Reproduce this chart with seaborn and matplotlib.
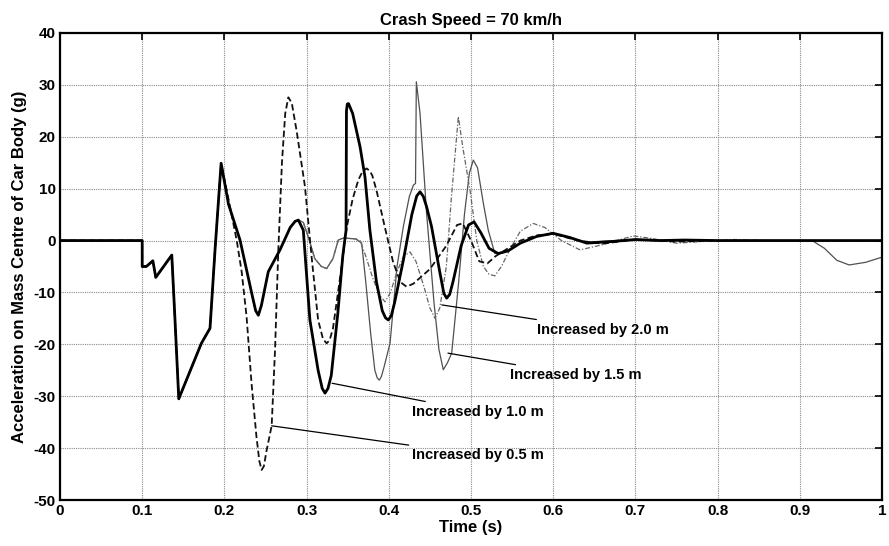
import numpy as np
import pandas as pd
import matplotlib
matplotlib.use("Agg")
import matplotlib.pyplot as plt
import seaborn as sns

# ---------------- data ----------------
# part shared by all four cases (t in s, acceleration in g)
common_t = [0.0, 0.1, 0.1, 0.105, 0.113, 0.1165, 0.136, 0.1399, 0.1445, 0.172, 0.1825, 0.1886, 0.196]
common_y = [0.0, 0.0, -5.0, -5.0, -3.9, -7.1, -2.8, -15.3, -30.5, -19.8, -16.9, -1.8, 14.9]

# part shared by the 1.0, 1.5 and 2.0 m cases
mid_t = [0.205, 0.219, 0.233, 0.238, 0.2413, 0.245, 0.2534, 0.2676, 0.28, 0.286, 0.29]
mid_y = [7.0, 0.1, -10.0, -13.5, -14.4, -12.5, -6.0, -1.8, 2.5, 3.7, 3.95]

# Increased by 1.0 m (thick solid)
t10 = [0.296, 0.304, 0.314, 0.319, 0.3224, 0.326, 0.33, 0.338, 0.344, 0.348, 0.3485, 0.3495,
       0.351, 0.356, 0.365, 0.371, 0.377, 0.385, 0.392, 0.396, 0.3994, 0.403, 0.407, 0.4177,
       0.428, 0.434, 0.438, 0.442, 0.446, 0.452, 0.4623, 0.467, 0.4704, 0.474, 0.478, 0.488,
       0.497, 0.5037, 0.512, 0.522, 0.533, 0.545, 0.56, 0.58, 0.6, 0.62, 0.641, 0.67, 0.7,
       0.73, 0.76, 0.8, 1.0]
y10 = [2.0, -15.3, -25.0, -28.5, -29.4, -28.5, -26.0, -14.0, -3.0, 2.0, 25.0, 26.3,
       26.4, 24.5, 18.1, 12.3, 2.0, -8.0, -13.5, -14.9, -15.3, -14.5, -12.0, -3.8,
       5.0, 8.6, 9.4, 8.5, 6.5, 2.7, -6.3, -10.2, -11.1, -10.4, -8.0, -1.0,
       3.0, 3.6, 1.5, -1.5, -2.5, -2.0, -0.5, 0.8, 1.4, 0.6, -0.5, -0.2, 0.2,
       0.0, 0.1, 0.0, 0.0]

# Increased by 0.5 m (dashed)
t05 = [0.205, 0.215, 0.221, 0.227, 0.233, 0.239, 0.2425, 0.2453, 0.248, 0.2514, 0.2575,
       0.2616, 0.2656, 0.27, 0.274, 0.2778, 0.282, 0.288, 0.298, 0.306, 0.314, 0.32,
       0.3244, 0.328, 0.332, 0.34, 0.349, 0.356, 0.363, 0.368, 0.373, 0.377, 0.38, 0.385,
       0.395, 0.405, 0.414, 0.4217, 0.43, 0.45, 0.47, 0.483, 0.49, 0.5, 0.51, 0.52, 0.53,
       0.545, 0.56, 0.58, 0.6, 0.63, 0.66, 0.7, 0.75, 0.8]
y05 = [8.0, 0.0, -6.0, -14.7, -27.5, -37.8, -42.5, -44.2, -43.5, -40.4, -35.7,
       -21.1, -1.8, 15.0, 24.5, 27.6, 26.5, 21.0, 10.4, -3.0, -15.3, -19.0,
       -19.8, -19.2, -17.0, -8.0, 2.7, 8.0, 11.7, 13.3, 13.9, 13.4, 12.5, 9.7,
       2.7, -4.0, -8.0, -8.9, -8.3, -5.5, -1.0, 3.0, 3.3, 0.0, -4.0, -4.4, -3.0,
       -1.5, 0.0, 1.0, 1.3, 0.0, -0.6, 0.2, -0.2, 0.0]

# part shared by the 1.5 and 2.0 m cases
pair_t = [0.296, 0.302, 0.31, 0.318, 0.3244, 0.332, 0.3386, 0.345, 0.36]
pair_y = [3.5, 0.7, -3.5, -5.0, -5.4, -3.5, 0.1, 0.5, 0.3]

# Increased by 1.5 m (thin solid)
t15 = [0.367, 0.372, 0.378, 0.383, 0.386, 0.3885, 0.391, 0.394, 0.4015, 0.41, 0.4177,
       0.425, 0.43, 0.4325, 0.4335, 0.438, 0.446, 0.455, 0.461, 0.4663, 0.4715, 0.4765,
       0.485, 0.492, 0.498, 0.5028, 0.508, 0.515, 0.521, 0.529, 0.54, 0.56, 0.58, 0.6,
       0.64, 0.7, 0.75, 0.915, 0.93, 0.945, 0.96, 0.98, 1.0]
y15 = [-0.5, -8.0, -18.0, -25.0, -26.5, -26.9, -26.2, -24.5, -19.8, -5.0, 2.7,
       8.5, 10.7, 11.0, 30.6, 24.5, 5.2, -12.0, -21.0, -24.9, -23.5, -21.7,
       -8.0, 5.0, 13.0, 15.5, 14.0, 7.2, 2.0, -2.5, -2.3, -0.5, 0.8, 1.3,
       -0.3, 0.2, 0.0, 0.0, -1.5, -3.8, -4.7, -4.2, -3.2]

# Increased by 2.0 m (thin dash-dot)
t20 = [0.365, 0.372, 0.38, 0.3885, 0.3954, 0.402, 0.41, 0.418, 0.4258, 0.433, 0.443,
       0.45, 0.4562, 0.462, 0.47, 0.476, 0.4846, 0.49, 0.4988, 0.507, 0.515, 0.522,
       0.529, 0.537, 0.548, 0.56, 0.5758, 0.59, 0.61, 0.6326, 0.66, 0.6975, 0.72,
       0.75, 0.78, 0.82, 0.86, 0.9]
y20 = [0.0, -3.0, -7.0, -10.5, -11.8, -10.0, -6.0, -3.0, -2.2, -4.0, -9.0,
       -13.0, -15.0, -13.0, -5.0, 8.0, 23.9, 18.0, 9.7, 0.0, -5.0, -6.5,
       -6.8, -5.0, -1.5, 1.8, 3.3, 2.5, 0.0, -1.8, -0.8, 0.9, 0.4,
       -0.5, -0.2, 0.2, 0.0, 0.0]

labels = ["Increased by 0.5 m", "Increased by 1.0 m", "Increased by 1.5 m", "Increased by 2.0 m"]
x_ticks = [0, 0.1, 0.2, 0.3, 0.4, 0.5, 0.6, 0.7, 0.8, 0.9, 1]
x_tick_labels = ["0", "0.1", "0.2", "0.3", "0.4", "0.5", "0.6", "0.7", "0.8", "0.9", "1"]
y_ticks = [-50, -40, -30, -20, -10, 0, 10, 20, 30, 40]

# ---------------- build series ----------------
series = {
    labels[0]: (common_t + t05, common_y + y05),
    labels[1]: (common_t + mid_t + t10, common_y + mid_y + y10),
    labels[2]: (common_t + mid_t + pair_t + t15, common_y + mid_y + pair_y + y15),
    labels[3]: (common_t + mid_t + pair_t + t20, common_y + mid_y + pair_y + y20),
}
frames = []
for name, (tt, yy) in series.items():
    frames.append(pd.DataFrame({"t": tt, "a": yy, "case": name}))
df = pd.concat(frames, ignore_index=True)

# ---------------- style ----------------
sns.set_style("white")
plt.rcParams["font.family"] = ["Liberation Sans", "DejaVu Sans"]
plt.rcParams["font.weight"] = "bold"
plt.rcParams["axes.unicode_minus"] = False
plt.rcParams["text.color"] = "black"
plt.rcParams["axes.labelcolor"] = "black"
plt.rcParams["xtick.color"] = "black"
plt.rcParams["ytick.color"] = "black"

fig = plt.figure(figsize=(8.89, 5.46), dpi=100)
ax = fig.add_axes([60 / 889, 1 - 500 / 546, 822 / 889, 467 / 546])

styles = {
    labels[2]: dict(color="#505050", linewidth=0.9, linestyle="-"),
    labels[3]: dict(color="#666666", linewidth=0.9, linestyle=(0, (4, 1.5, 1, 1.5))),
    labels[0]: dict(color="#111111", linewidth=1.3, linestyle=(0, (3.5, 1.8))),
    labels[1]: dict(color="black", linewidth=2.0, linestyle="-"),
}
for name in [labels[2], labels[3], labels[0], labels[1]]:
    sub = df[df["case"] == name]
    sns.lineplot(data=sub, x="t", y="a", ax=ax, sort=False, estimator=None,
                 legend=False, **styles[name])

ax.set_xlim(0, 1)
ax.set_ylim(-50, 40)
ax.set_xticks(x_ticks)
ax.set_xticklabels(x_tick_labels)
ax.set_yticks(y_ticks)
ax.grid(True, linestyle=(0, (1, 1)), color="#8a8a8a", linewidth=0.8)
ax.tick_params(direction="in", length=5, width=1.2, top=True, right=True,
               labelsize=11, pad=3, colors="black")
for lab in ax.get_xticklabels() + ax.get_yticklabels():
    lab.set_fontweight("bold")
for sp in ax.spines.values():
    sp.set_visible(True)
    sp.set_color("black")
    sp.set_linewidth(1.6)

ax.set_xlabel("Time (s)", fontsize=12, fontweight="bold", labelpad=1, color="black")
ax.set_ylabel("Acceleration on Mass Centre of Car Body (g)", fontsize=12,
              fontweight="bold", labelpad=5, color="black")
ax.set_title("Crash Speed = 70 km/h", fontsize=12, fontweight="bold", pad=6, color="black")

# ---------------- annotations ----------------
notes = [
    (labels[3], (0.4644, -12.4), (0.5803, -17.2)),
    (labels[2], (0.472, -21.7), (0.5474, -25.9)),
    (labels[1], (0.331, -27.5), (0.4282, -33.0)),
    (labels[0], (0.2575, -35.7), (0.4282, -41.3)),
]
for txt, xy, xyt in notes:
    ax.annotate(txt, xy=xy, xytext=xyt, ha="left", va="center",
                fontsize=10.5, fontweight="bold", color="black",
                arrowprops=dict(arrowstyle="-", color="black", lw=0.9,
                                shrinkA=0, shrinkB=0))

fig.savefig("out.png", dpi=100)
